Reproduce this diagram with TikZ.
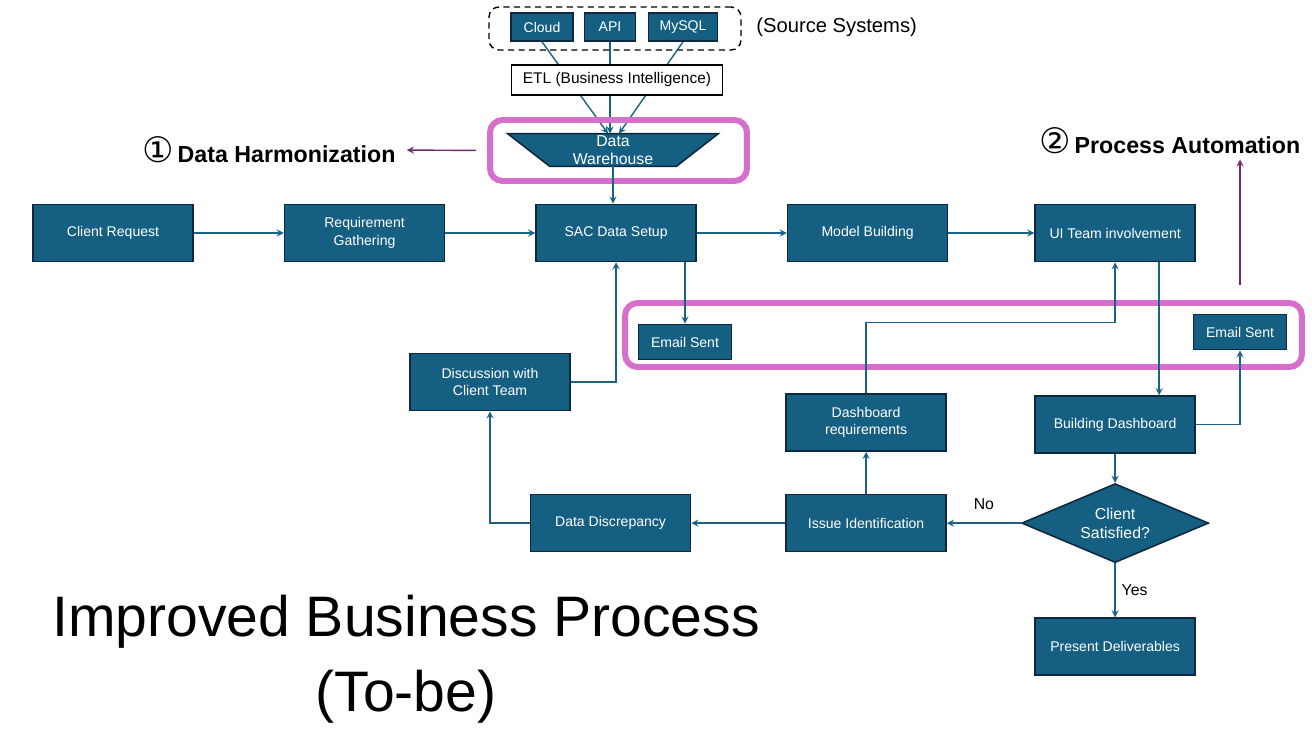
\documentclass[tikz,border=0pt]{standalone}
\usepackage{fontspec}
\setmainfont{Liberation Sans}
\newfontfamily\symfont{DejaVu Sans}
\usepackage{tikz}
\usetikzlibrary{shapes.geometric, arrows, calc, positioning}
\definecolor{boxblue}{HTML}{156082}
\definecolor{boxedge}{HTML}{0E2841}
\definecolor{linkblue}{HTML}{1A6385}
\definecolor{framepink}{HTML}{D56FCB}
\definecolor{hintpurple}{HTML}{7B2670}
\tikzstyle{block} = [rectangle, fill=boxblue, draw=boxedge, line width=0.9pt, minimum width=3.2cm, minimum height=1.14cm, text centered, align=center, text=white, font=\fontsize{8}{10}\selectfont]
\tikzstyle{source} = [block, minimum height=0.56cm, inner sep=1pt]
\tikzstyle{mail} = [block, minimum width=1.86cm, minimum height=0.7cm]
\tikzstyle{decision} = [diamond, aspect=2.4, fill=boxblue, draw=boxedge, line width=0.9pt, minimum width=3.74cm, minimum height=1.58cm, inner sep=0pt, text centered, align=center, text=white, font=\fontsize{9}{11}\selectfont]
\tikzstyle{store} = [fill=boxblue, draw=boxedge, line width=0.9pt]
\tikzstyle{etl} = [rectangle, fill=white, draw=black, line width=0.6pt, minimum width=4.22cm, minimum height=0.6cm, font=\fontsize{8.8}{10}\selectfont]
\tikzstyle{highlight} = [rectangle, rounded corners=0.25cm, draw=framepink, line width=3.4pt]
\tikzstyle{heading} = [font=\fontsize{13.2}{15}\selectfont\bfseries, inner sep=0pt]
\tikzstyle{arrow} = [line width=0.8pt, draw=linkblue, ->, >=stealth]
\tikzstyle{hintarrow} = [line width=0.8pt, draw=hintpurple, ->, >=stealth]

\begin{document}
\begin{tikzpicture}[x=0.02cm, y=-0.02cm, node distance = 1.8cm]
		\useasboundingbox (0,0) rectangle (1312,736);
		% source systems
		\node (SourceFrame) [draw, dashed, dash pattern=on 3.5pt off 2.5pt, line width=0.8pt, rounded corners=0.2cm, minimum width=5.04cm, minimum height=0.86cm] at (615,28.5) {};
		\node (Cloud) [source, minimum width=1.24cm] at (542,27) {Cloud};
		\node (API) [source, minimum width=1.02cm] at (610,27) {API};
		\node (MySQL) [source, minimum width=1.38cm] at (683,27) {MySQL};
		\node (SourceText) [anchor=west, inner sep=0pt, font=\fontsize{11.5}{13}\selectfont] at (756,27) {(Source Systems)};
		% warehouse (trapezium drawn by hand)
		\node (DWShape) [minimum width=4.2cm, minimum height=0.64cm, inner sep=0pt] at (613,150) {};
		\draw [store] (DWShape.north west) -- (DWShape.north east) -- ([xshift=-0.84cm]DWShape.south east) -- ([xshift=0.84cm]DWShape.south west) -- cycle;
		\node (DW) [align=center, text=white, font=\fontsize{9}{10}\selectfont] at (DWShape) {Data\\Warehouse};
		\draw [arrow] (Cloud.south) -- ([xshift=-0.1cm]DWShape.north);
		\draw [arrow] (API.south) -- (API.south |- DWShape.north);
		\draw [arrow] (MySQL.south) -- ([xshift=0.12cm]DWShape.north);
		\node (ETL) [etl] at (617,80) {ETL (Business Intelligence)};
		\node (HarmFrame) [highlight, minimum width=5.14cm, minimum height=1.22cm] at (618.5,150.5) {};
		\node (Harmonization) [heading, anchor=west] at (142,150) {{\symfont\mdseries\fontsize{20}{20}\selectfont ①}\,Data Harmonization};
		% main row
		\node (ClientRequest) [block] at (113,233) {Client Request};
		\node (ReqGathering) [block, right = of ClientRequest] {Requirement\\Gathering};
		\node (SAC) [block, right = of ReqGathering] {SAC Data Setup};
		\node (ModelBuilding) [block, right = of SAC] {Model Building};
		\node (UITeam) [block, right = 1.72cm of ModelBuilding] {UI Team involvement};
		\node (BuildDash) [block, below = 2.66cm of UITeam] {Building Dashboard};
		\node (Decision) [decision, below = 0.58cm of BuildDash] {Client\\Satisfied?};
		\node (Deliverables) [block, below = 1.08cm of Decision] {Present Deliverables};
		\node (Issue) [block, left = 1.48cm of Decision] {Issue Identification};
		\node (DashReq) [block, above = 0.84cm of Issue] {Dashboard\\requirements};
		\node (Discrepancy) [block, left = 1.88cm of Issue] {Data Discrepancy};
		\node (Discussion) [block] at (490,382) {Discussion with\\Client Team};
		\node (EmailOne) [mail] at (685,342) {Email Sent};
		\node (EmailTwo) [mail] at (1240,332) {Email Sent};
		\node (AutoFrame) [highlight, minimum width=13.54cm, minimum height=1.28cm] at (963.5,335) {};
		\node (Automation) [heading, anchor=west] at (1039,141) {{\symfont\mdseries\fontsize{20}{20}\selectfont ②}\,Process Automation};
		\node (Title) [align=center, font=\fontsize{32.5}{43}\selectfont] at (406,659) {Improved Business Process\\(To-be)};
		% connectors
		\draw [arrow] (DWShape.south) -- (SAC.north -| DWShape.south);
		\draw [arrow] (ClientRequest) -- (ReqGathering);
		\draw [arrow] (ReqGathering) -- (SAC);
		\draw [arrow] (SAC) -- (ModelBuilding);
		\draw [arrow] (ModelBuilding) -- (UITeam);
		\draw [arrow] (SAC.south -| EmailOne.north) -- (EmailOne.north);
		\draw [arrow] (Discussion.east) -| (SAC.south);
		\draw [arrow] (Discrepancy.west) -| (Discussion.south);
		\draw [arrow] (Issue) -- (Discrepancy);
		\draw [arrow] (Issue) -- (DashReq);
		\draw [arrow] (DashReq.north) -- ++(0,-71) -| (UITeam.south);
		\draw [arrow] ([xshift=0.88cm]UITeam.south) -- ([xshift=0.88cm]BuildDash.north);
		\draw [arrow] (BuildDash.east) -| (EmailTwo.south);
		\draw [arrow] (BuildDash) -- (Decision);
		\draw [arrow] (Decision) -- node[above=4pt, font=\fontsize{9}{10}\selectfont] {No} (Issue);
		\draw [arrow] (Decision) -- node[right, font=\fontsize{9}{10}\selectfont] {Yes} (Deliverables);
		\draw [hintarrow, shorten <=0.22cm, shorten >=0.22cm] (HarmFrame.west) -- (Harmonization.east);
		\draw [hintarrow, shorten <=0.3cm, shorten >=0.1cm] (AutoFrame.north -| EmailTwo) -- (Automation.south -| EmailTwo);
	\end{tikzpicture}
\end{document}
